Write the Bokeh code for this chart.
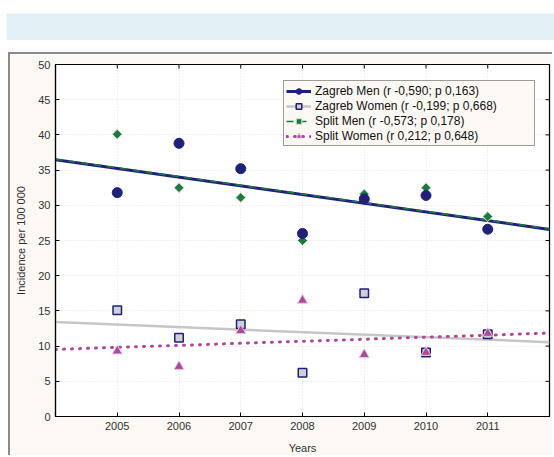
from bokeh.plotting import figure
from bokeh.layouts import column, row
from bokeh.models import Spacer, Legend, LegendItem, FixedTicker, Range1d
from bokeh.embed import file_html
from bokeh.resources import INLINE
import numpy as np

# ---- data ----
years = [2005, 2006, 2007, 2008, 2009, 2010, 2011]
zagreb_men = [31.8, 38.8, 35.2, 26.0, 30.9, 31.4, 26.6]
zagreb_women = [15.1, 11.2, 13.1, 6.2, 17.5, 9.1, 11.7]
split_men = [40.1, 32.5, 31.1, 25.0, 31.6, 32.5, 28.4]
split_women = [9.3, 7.1, 12.2, 16.5, 8.8, 9.1, 11.8]
labels = ["Zagreb Men (r -0,590; p 0,163)",
          "Zagreb Women (r -0,199; p 0,668)",
          "Split Men (r -0,573; p 0,178)",
          "Split Women (r 0,212; p 0,648)"]
y_ticks = [0, 5, 10, 15, 20, 25, 30, 35, 40, 45, 50]
x_range = (2004, 2012)
y_range = (0, 50)

FONT = "Liberation Sans"
CREAM = "#fcf8f3"
NAVY = "#20207a"
GREEN = "#1b7a3e"
MAGENTA = "#b1479b"
GRAYLINE = "#c6c6c6"

# ---- top band ----
band = figure(width=548, height=27, toolbar_location=None, output_backend="svg",
              x_range=(0, 1), y_range=(0, 1), min_border=0)
band.axis.visible = False
band.grid.visible = False
band.outline_line_color = None
band.background_fill_color = "#e2f1f6"
band.border_fill_color = "#e2f1f6"
band.scatter([0.5], [0.5], alpha=0)

# ---- main figure ----
p = figure(width=544, height=403, toolbar_location=None, output_backend="svg",
           x_range=Range1d(*x_range), y_range=Range1d(*y_range),
           min_border_left=45, min_border_right=5, min_border_top=10,
           min_border_bottom=41)
p.border_fill_color = CREAM
p.background_fill_color = "white"
p.outline_line_color = "black"
p.outline_line_width = 1.2
p.styles = {"border-top": "2px solid #8a8a8a", "border-left": "2px solid #8a8a8a"}

def style_axis(ax):
    ax.axis_line_color = "black"
    ax.axis_line_width = 1.2
    ax.major_tick_in = 4
    ax.major_tick_out = 0
    ax.minor_tick_line_color = None
    ax.major_tick_line_color = "black"
    ax.major_label_text_font = FONT
    ax.major_label_text_font_size = "11px"
    ax.major_label_text_color = "#333333"
    ax.major_label_standoff = 5
    ax.axis_label_text_font = FONT
    ax.axis_label_text_font_size = "11px"
    ax.axis_label_text_font_style = "normal"
    ax.axis_label_text_color = "#333333"

p.xaxis.ticker = FixedTicker(ticks=years)
p.yaxis.ticker = FixedTicker(ticks=y_ticks)
p.xaxis.axis_label = "Years"
p.yaxis.axis_label = "Incidence per 100 000"
style_axis(p.xaxis[0])
style_axis(p.yaxis[0])
p.xaxis.axis_label_standoff = 9
p.yaxis.axis_label_standoff = 8

p.xgrid.ticker = FixedTicker(ticks=years)
p.ygrid.ticker = FixedTicker(ticks=y_ticks)
for g in (p.xgrid[0], p.ygrid[0]):
    g.grid_line_color = "#e0e0e0"
    g.grid_line_dash = "1 2"
    g.grid_line_width = 1

# inner ticks on the right and top edges of the frame (half clipped dashes)
p.scatter([x_range[1]] * len(y_ticks), y_ticks, marker="dash", size=8,
          line_color="black", line_width=1)
p.scatter(years, [y_range[1]] * len(years), marker="dash", size=8, angle=np.pi / 2,
          line_color="black", line_width=1)

# regression lines (least squares fit of the series)
xs = np.array(years, dtype=float)
xl = np.array(x_range, dtype=float)
def fit(vals):
    k, b = np.polyfit(xs, np.array(vals, dtype=float), 1)
    return k * xl + b

l_zw = p.line(xl, fit(zagreb_women), line_color=GRAYLINE, line_width=2.5)
l_sw = p.line(xl, fit(split_women), line_color=MAGENTA, line_width=3,
              line_dash="1 7", line_cap="round")
l_zm = p.line(xl, fit(zagreb_men), line_color=NAVY, line_width=3)
l_sm = p.line(xl, fit(split_men), line_color=GREEN, line_width=1.6,
              line_dash="7 6")

s_zw = p.scatter(years, zagreb_women, marker="square", size=8.5,
                 fill_color="#cfcfd6", line_color=NAVY, line_width=1.5)
s_sw = p.scatter(years, split_women, marker="triangle", size=10,
                 fill_color=MAGENTA, line_color="#e0c8e0", line_width=1)
s_sm = p.scatter(years, split_men, marker="square", size=7, angle=np.pi / 4,
                 fill_color=GREEN, line_color="#d8e8d8", line_width=1)
s_zm = p.scatter(years, zagreb_men, marker="circle", size=10,
                 fill_color=NAVY, line_color=NAVY)

legend = Legend(items=[
    LegendItem(label=labels[0], renderers=[l_zm, s_zm]),
    LegendItem(label=labels[1], renderers=[l_zw, s_zw]),
    LegendItem(label=labels[2], renderers=[l_sm, s_sm]),
    LegendItem(label=labels[3], renderers=[l_sw, s_sw]),
], location=(228, 270), orientation="vertical")
legend.border_line_color = "#404040"
legend.border_line_width = 1.5
legend.background_fill_color = CREAM
legend.background_fill_alpha = 1
legend.label_text_font = FONT
legend.label_text_font_size = "12px"
legend.label_text_color = "#111111"
legend.glyph_width = 25
legend.glyph_height = 14
legend.label_height = 15
legend.label_width = 217
legend.label_standoff = 4
legend.spacing = 0
legend.padding = 2
legend.margin = 0
p.add_layout(legend)

layout = row(
    Spacer(width=6),
    column(Spacer(height=13), band, Spacer(height=12),
           row(Spacer(width=2), p, spacing=0), spacing=0),
    spacing=0)

open("out.html", "w").write(file_html(layout, INLINE))
